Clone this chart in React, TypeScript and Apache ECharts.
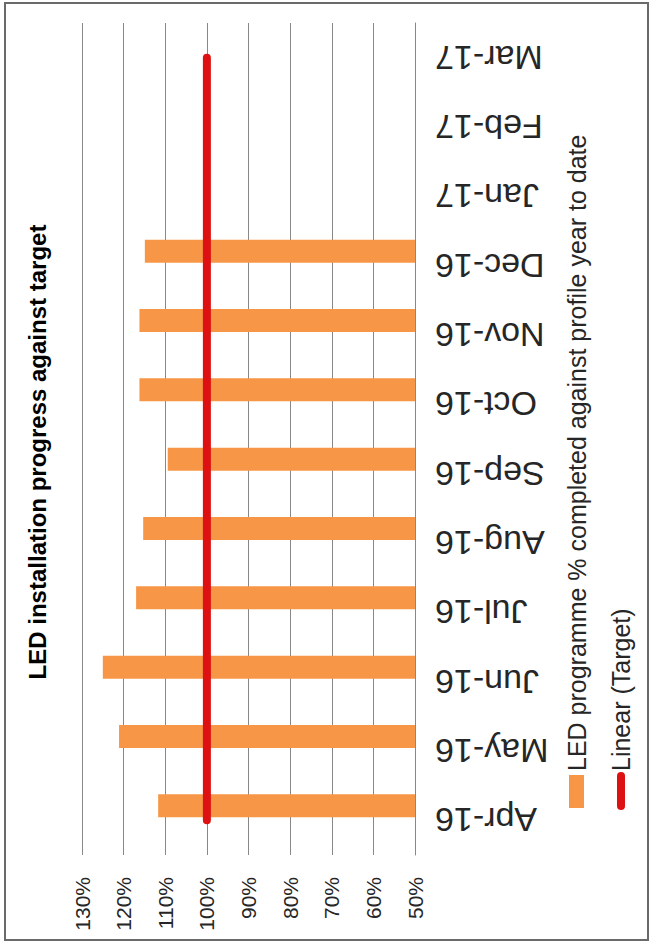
import React, { useEffect, useRef } from "react";
import * as echarts from "echarts";

const CATEGORIES = ["Apr-16", "May-16", "Jun-16", "Jul-16", "Aug-16", "Sep-16", "Oct-16", "Nov-16", "Dec-16", "Jan-17", "Feb-17", "Mar-17"];
const LED_PROGRESS: (number | null)[] = [111.7, 121.1, 125.0, 117.0, 115.3, 109.4, 116.2, 116.2, 114.9, null, null, null];
const TARGET = [100, 100, 100, 100, 100, 100, 100, 100, 100, 100, 100, 100];
const AXIS_MIN = 50;
const AXIS_MAX = 130;
const AXIS_INTERVAL = 10;
const TITLE = "LED installation progress against target";
const LEGEND_LED = "LED programme % completed against profile year to date";
const LEGEND_TARGET = "Linear (Target)";

const FONT = "Liberation Sans";

export default function App() {
  const ref = useRef<HTMLDivElement>(null);
  useEffect(() => {
    if (!ref.current) return;
    const chart = echarts.init(ref.current, undefined, { renderer: "svg" });
    chart.setOption({
      animation: false,
      backgroundColor: "#ffffff",
      grid: { left: 82, right: 238, top: 23, bottom: 89, containLabel: false },
      xAxis: {
        type: "value",
        min: AXIS_MIN,
        max: AXIS_MAX,
        interval: AXIS_INTERVAL,
        inverse: true,
        position: "bottom",
        axisLine: { show: false },
        axisTick: { show: false },
        axisLabel: {
          formatter: "{value}%",
          rotate: 90,
          margin: 22,
          fontSize: 21,
          fontFamily: FONT,
          color: "#262626",
        },
        splitLine: { show: true, lineStyle: { color: "#888888", width: 1 } },
      },
      yAxis: {
        type: "category",
        data: CATEGORIES,
        position: "right",
        axisLine: { show: true, lineStyle: { color: "#888888", width: 1 } },
        axisTick: { show: false },
        splitLine: { show: false },
        axisLabel: {
          rotate: 180,
          align: "right",
          verticalAlign: "middle",
          margin: 20,
          fontSize: 34,
          fontFamily: FONT,
          color: "#262626",
          interval: 0,
        },
      },
      series: [
        {
          name: LEGEND_LED,
          type: "bar",
          data: LED_PROGRESS,
          barWidth: 23,
          barGap: "26%",
          itemStyle: { color: "#f79646" },
          z: 2,
        },
        {
          name: "Target",
          type: "bar",
          data: TARGET,
          barWidth: 23,
          barGap: "26%",
          itemStyle: { color: "rgba(0,0,0,0)" },
          silent: true,
          z: 1,
        },
        {
          name: LEGEND_TARGET,
          type: "line",
          data: TARGET,
          showSymbol: false,
          symbol: "none",
          lineStyle: { color: "#dd1111", width: 8, cap: "round" },
          z: 5,
        },
      ],
      graphic: [
        {
          type: "rect",
          shape: { x: 5, y: 3, width: 643, height: 937 },
          style: { fill: "none", stroke: "#6a6a6a", lineWidth: 2 },
          z: 0,
        },
        {
          type: "text",
          x: 37,
          y: 452,
          rotation: Math.PI / 2,
          style: {
            text: TITLE,
            fontFamily: FONT,
            fontSize: 24,
            fontWeight: "bold",
            fill: "#000000",
            align: "center",
            verticalAlign: "middle",
          },
        },
        {
          type: "rect",
          shape: { x: 569, y: 775, width: 15, height: 33 },
          style: { fill: "#f79646" },
        },
        {
          type: "text",
          x: 577,
          y: 771,
          rotation: Math.PI / 2,
          style: {
            text: LEGEND_LED,
            fontFamily: FONT,
            fontSize: 25,
            fill: "#262626",
            align: "left",
            verticalAlign: "middle",
          },
        },
        {
          type: "line",
          shape: { x1: 621, y1: 776, x2: 621, y2: 806 },
          style: { stroke: "#dd1111", lineWidth: 8, lineCap: "round" },
        },
        {
          type: "text",
          x: 621,
          y: 771,
          rotation: Math.PI / 2,
          style: {
            text: LEGEND_TARGET,
            fontFamily: FONT,
            fontSize: 25,
            fill: "#262626",
            align: "left",
            verticalAlign: "middle",
          },
        },
      ],
    });
    return () => chart.dispose();
  }, []);
  return (
    <div
      ref={ref}
      style={{ position: "absolute", left: 0, top: 0, width: 653, height: 944 }}
    />
  );
}
